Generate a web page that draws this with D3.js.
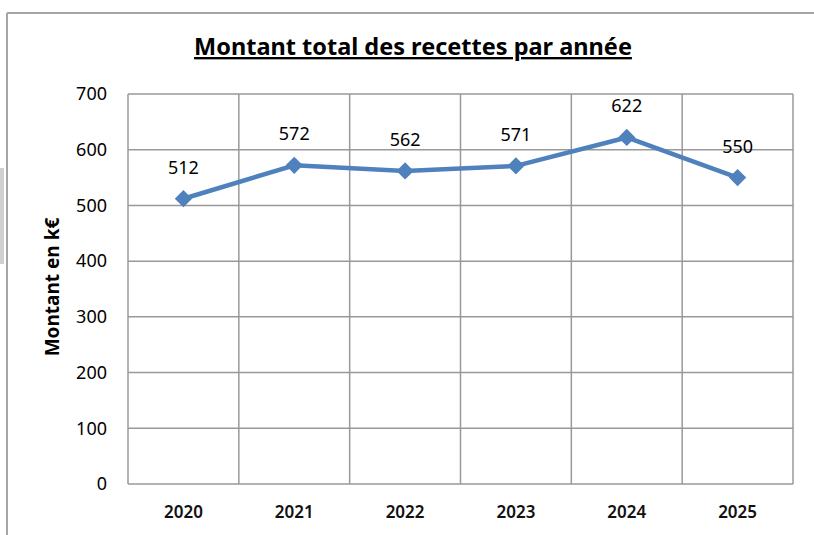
<!DOCTYPE html>
<html>
<head>
<meta charset="utf-8">
<script src="https://cdn.jsdelivr.net/npm/d3@7"></script>
<style>
  body { margin: 0; background: #fff; }
  svg { display: block; font-family: 'Noto Sans', 'Liberation Sans', sans-serif; }
</style>
</head>
<body>
<div id="chart"></div>
<script>
// Chart data
const years = ['2020', '2021', '2022', '2023', '2024', '2025'];
const amounts = [512, 572, 562, 571, 622, 550];
const yTicks = [0, 100, 200, 300, 400, 500, 600, 700];

const width = 814;
const height = 535;
const margin = { top: 94, right: 21, bottom: 51, left: 128 };
const innerW = width - margin.left - margin.right;
const innerH = height - margin.top - margin.bottom;

const svg = d3.select('#chart')
  .append('svg')
  .attr('width', width)
  .attr('height', height);

// outer frame of the chart object (top and left edges visible)
svg.append('line')
  .attr('x1', 7).attr('x2', width).attr('y1', 13).attr('y2', 13)
  .attr('stroke', '#a6a6a6').attr('stroke-width', 2);
svg.append('line')
  .attr('x1', 7).attr('x2', 7).attr('y1', 13).attr('y2', height)
  .attr('stroke', '#a6a6a6').attr('stroke-width', 2);
// light grey strip on the page edge
svg.append('rect')
  .attr('x', 0).attr('y', 168).attr('width', 4).attr('height', 96)
  .attr('fill', '#d0d0d0');

// Title
svg.append('text')
  .text('Montant total des recettes par année')
  .attr('x', 413)
  .attr('y', 55)
  .attr('text-anchor', 'middle')
  .attr('font-size', 23.5)
  .attr('font-weight', 'bold')
  .attr('text-decoration', 'underline')
  .attr('fill', '#000');

const g = svg.append('g')
  .attr('transform', `translate(${margin.left}, ${margin.top})`);

const x = d3.scaleBand().domain(years).range([0, innerW]);
const y = d3.scaleLinear().domain([0, 700]).range([innerH, 0]);

// horizontal gridlines + y labels
const yAxis = d3.axisLeft(y)
  .tickValues(yTicks)
  .tickSize(0)
  .tickPadding(21);
g.append('g')
  .call(yAxis)
  .call(s => s.select('.domain').remove())
  .selectAll('text')
  .attr('font-size', 18)
  .attr('fill', '#000')
  .attr('font-family', "'Noto Sans', sans-serif");

g.append('g')
  .selectAll('line')
  .data(yTicks)
  .join('line')
  .attr('x1', 0).attr('x2', innerW)
  .attr('y1', d => y(d)).attr('y2', d => y(d))
  .attr('stroke', '#999').attr('stroke-width', 1.5);

// vertical gridlines at band edges
const edges = years.map(d => x(d)).concat([innerW]);
g.append('g')
  .selectAll('line')
  .data(edges)
  .join('line')
  .attr('x1', d => d).attr('x2', d => d)
  .attr('y1', 0).attr('y2', innerH)
  .attr('stroke', '#999').attr('stroke-width', 1.5);

// x labels
const xAxis = d3.axisBottom(x).tickSize(0).tickPadding(22);
g.append('g')
  .attr('transform', `translate(0, ${innerH})`)
  .call(xAxis)
  .call(s => s.select('.domain').remove())
  .selectAll('text')
  .attr('font-size', 17)
  .attr('font-weight', 600)
  .attr('fill', '#111')
  .attr('font-family', "'Noto Sans', sans-serif");

// Y Axis Label
svg.append('text')
  .text('Montant en k€')
  .attr('transform', `translate(59, ${margin.top + innerH / 2 - 2}) rotate(-90)`)
  .attr('text-anchor', 'middle')
  .attr('font-size', 19)
  .attr('font-weight', 'bold')
  .attr('fill', '#000');

// line
const line = d3.line()
  .x((d, i) => x(years[i]) + x.bandwidth() / 2)
  .y(d => y(d));

g.append('path')
  .datum(amounts)
  .attr('d', line)
  .attr('fill', 'none')
  .attr('stroke', '#4f81bd')
  .attr('stroke-width', 4.5)
  .attr('stroke-linejoin', 'round');

// diamond markers
g.selectAll('.marker')
  .data(amounts)
  .join('path')
  .attr('class', 'marker')
  .attr('d', d3.symbol().type(d3.symbolDiamond2).size(190))
  .attr('transform', (d, i) => `translate(${x(years[i]) + x.bandwidth() / 2}, ${y(d)})`)
  .attr('fill', '#4f81bd');

// data labels
g.selectAll('.label')
  .data(amounts)
  .join('text')
  .attr('class', 'label')
  .text(d => d)
  .attr('x', (d, i) => x(years[i]) + x.bandwidth() / 2)
  .attr('y', d => y(d) - 25)
  .attr('text-anchor', 'middle')
  .attr('font-size', 18)
  .attr('fill', '#000');
</script>
</body>
</html>
